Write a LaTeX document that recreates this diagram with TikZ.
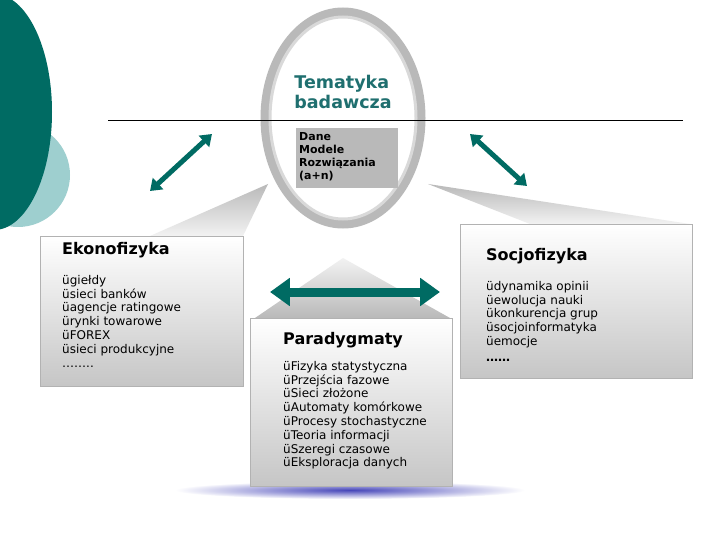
\documentclass[tikz,border=0pt]{standalone}
\usepackage{fontspec}
\setmainfont{DejaVu Sans}
\usetikzlibrary{shapes.geometric,arrows.meta}
\definecolor{teal1}{HTML}{006B63}
\definecolor{teal2}{HTML}{9ECFCF}
\definecolor{tealt}{HTML}{1F6F6F}
\tikzset{
  box/.style={draw=gray!60, top color=white, bottom color=gray!45, inner sep=0pt},
  tri/.style={top color=gray!55, bottom color=gray!10, draw=none},
  dbl/.style={draw=teal1, line width=#1, {Triangle[length=2.2*#1,width=3*#1]}-{Triangle[length=2.2*#1,width=3*#1]}},
  lst/.style={font=\fontsize{12}{13.8}\selectfont, align=left, anchor=north west, inner sep=0pt},
  ttl/.style={font=\bfseries\fontsize{16}{18}\selectfont, anchor=north west, inner sep=0pt}
}
\begin{document}
\begin{tikzpicture}[x=1pt,y=-1pt]
\useasboundingbox (0,0) rectangle (720,540);
\fill[white] (0,0) rectangle (720,540);
% left circles
\fill[teal2] (18,175) circle (52);
\fill[teal1] (-6,112) ellipse (58 and 118);
% shadow
\shade[inner color=blue!45!gray, outer color=white] (350,490) ellipse (175 and 9);
% triangles
\shade[tri] (150,236) -- (243,236) -- (268,184) -- cycle;
\shade[tri] (428,184) -- (530,224) -- (690,224) -- cycle;
\shade[tri,top color=gray!10,bottom color=gray!55] (343,258) -- (255,318) -- (450,318) -- cycle;
% ring
\node (ring) [ellipse, minimum width=156pt, minimum height=212pt, line width=9pt, draw=gray!55] at (343,118) {};
\draw[gray!30,line width=3pt] (343,118) ellipse (73 and 101);
\node (tem) [font=\bfseries\fontsize{17.5}{20}\selectfont, text=tealt, align=left] at (343,92) {Tematyka\\badawcza};
\draw[black] (108,120) -- (683,120);
\node (dane) [fill=gray!55, minimum width=102pt, minimum height=60pt, anchor=north west, inner sep=0pt] at (296,128) {};
\node [font=\bfseries\fontsize{11}{13}\selectfont, align=left, anchor=north west, inner sep=0pt] at (299,132) {Dane\\Modele\\Rozwiązania\\(a+n)};
% boxes
\node (ek) [box, minimum width=203pt, minimum height=150pt, anchor=north west] at (40,236) {};
\node [ttl] at (62,242) {Ekonofizyka};
\node [lst] at (62,275) {ügiełdy\\üsieci banków\\üagencje ratingowe\\ürynki towarowe\\üFOREX\\üsieci produkcyjne\\……..};
\node (so) [box, minimum width=232pt, minimum height=154pt, anchor=north west] at (460,224) {};
\node [ttl] at (486,248) {Socjofizyka};
\node [lst] at (486,281) {üdynamika opinii\\üewolucja nauki\\ükonkurencja grup\\üsocjoinformatyka\\üemocje\\[2pt]\bfseries ……};
\node (pa) [box, minimum width=202pt, minimum height=168pt, anchor=north west] at (250,318) {};
\node [ttl] at (283,332) {Paradygmaty};
\node [lst] at (283,361) {üFizyka statystyczna\\üPrzejścia fazowe\\üSieci złożone\\üAutomaty komórkowe\\üProcesy stochastyczne\\üTeoria informacji\\üSzeregi czasowe\\üEksploracja danych};
% arrows
\coordinate (h1) at (270,292); \coordinate (h2) at (440,292);
\coordinate (l1) at (150,191); \coordinate (l2) at (212,134);
\coordinate (r1) at (470,134); \coordinate (r2) at (527,186);
\draw[dbl=9pt] (h1) -- (h2);
\draw[dbl=5pt] (l1) -- (l2);
\draw[dbl=5pt] (r1) -- (r2);
\end{tikzpicture}
\end{document}
